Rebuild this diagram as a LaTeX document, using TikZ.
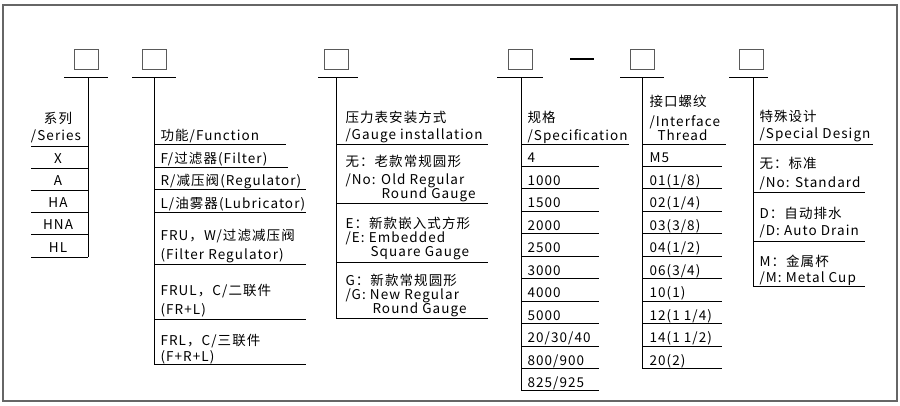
\documentclass[tikz,border=0pt]{standalone}
\usepackage{fontspec}
\setmainfont{Noto Sans CJK SC}[LetterSpace=8]
\definecolor{framegray}{HTML}{666666}
\definecolor{boxgray}{HTML}{5A5A5A}
\begin{document}
\begin{tikzpicture}[x=1pt,y=-1pt,line width=1pt,
  txt/.style={anchor=base west,inner sep=0pt,font=\fontsize{13.5}{16}\selectfont},
  ctxt/.style={txt,anchor=base},
  codebox/.style={draw=boxgray,line width=0.9pt,minimum width=24pt,minimum height=20pt,inner sep=0pt},
  rulel/.style={draw=black,line width=1pt}]
\useasboundingbox (0,0) rectangle (900,405);
\draw[framegray,line width=1.3pt] (3,5) rectangle (897,401);
% code boxes
\node[codebox] (b1) at (86.5,59) {};
\node[codebox] (b2) at (154,59) {};
\node[codebox] (b3) at (336,59) {};
\node[codebox] (b4) at (520,59) {};
\node[codebox] (b5) at (642.5,59) {};
\node[codebox] (b6) at (751,59) {};
\draw[line width=1.4pt] (570,59) -- (594,59);
% top rules
\draw[rulel] (64,77) -- (108,77);
\draw[rulel] (132,77) -- (176,77);
\draw[rulel] (318,77) -- (358,77);
\draw[rulel] (497,77) -- (543,77);
\draw[rulel] (620,77) -- (664,77);
\draw[rulel] (729,77) -- (768,77);
% column 1
\draw[rulel] (88,77) -- (88,257);
\node[ctxt] (s1) at (58,123) {系列};
\node[ctxt] (s2) at (56,140) {/Series};
\draw[rulel] (31,146) -- (88,146);
\foreach \t [count=\i] in {X,A,HA,HNA,HL}{
  \pgfmathsetmacro{\yl}{146+22.2*\i}
  \draw[rulel] (31,\yl) -- (88,\yl);
  \node[ctxt] (r1-\i) at (58,\yl-5) {\t};
}
% column 2
\draw[rulel] (154,77) -- (154,364);
\node[txt] (f0) at (160,140) {功能/Function};
\draw[rulel] (154,144) -- (286,144);
\draw[rulel] (154,167) -- (288,167);
\draw[rulel] (154,189.5) -- (306,189.5);
\draw[rulel] (154,212) -- (306,212);
\draw[rulel] (154,264) -- (306,264);
\draw[rulel] (154,319) -- (306,319);
\draw[rulel] (154,364) -- (306,364);
\node[txt] (f1) at (160,163) {F/过滤器(Filter)};
\node[txt] (f2) at (160,185.5) {R/减压阀(Regulator)};
\node[txt] (f3) at (160,208) {L/油雾器(Lubricator)};
\node[txt] (f4) at (160,240) {FRU，W/过滤减压阀};
\node[txt] (f4b) at (160,259.5) {(Filter Regulator)};
\node[txt] (f5) at (160,295) {FRUL，C/二联件};
\node[txt] (f5b) at (160,314) {(FR+L)};
\node[txt] (f6) at (160,345) {FRL，C/三联件};
\node[txt] (f6b) at (160,361.5) {(F+R+L)};
% column 3
\draw[rulel] (336,77) -- (336,318);
\node[txt] (g0) at (345,122.5) {压力表安装方式};
\node[txt] (g0b) at (345,139) {/Gauge installation};
\foreach \yl in {144,203,262,318}{\draw[rulel] (336,\yl) -- (488,\yl);}
\node[txt] (g1) at (345,166.5) {无：老款常规圆形};
\node[txt] (g1b) at (345,184) {/No: Old Regular};
\node[txt] (g1c) at (381,198) {Round Gauge};
\node[txt] (g2) at (345,228) {E：新款嵌入式方形};
\node[txt] (g2b) at (345,242) {/E: Embedded};
\node[txt] (g2c) at (370,256.5) {Square Gauge};
\node[txt] (g3) at (345,285) {G：新款常规圆形};
\node[txt] (g3b) at (345,299) {/G: New Regular};
\node[txt] (g3c) at (372,313) {Round Gauge};
% column 4
\draw[rulel] (521,77) -- (521,391);
\node[txt] (p0) at (527,122.5) {规格};
\node[txt] (p0b) at (527,140) {/Specification};
\draw[rulel] (521,144) -- (629,144);
\foreach \t [count=\i] in {4,1000,1500,2000,2500,3000,4000,5000,20/30/40,800/900,825/925}{
  \pgfmathsetmacro{\yl}{144+22.45*\i}
  \draw[rulel] (521,\yl) -- (599,\yl);
  \node[txt] (r4-\i) at (527,\yl-3.5) {\t};
}
% column 5
\draw[rulel] (642,77) -- (642,369);
\node[txt] (t0) at (649,106) {接口螺纹};
\node[txt] (t0b) at (649,126) {/Interface};
\node[txt] (t0c) at (657,140) {Thread};
\draw[rulel] (642,144) -- (726,144);
\foreach \t [count=\i] in {M5,01(1/8),02(1/4),03(3/8),04(1/2),06(3/4),10(1),12(1 1/4),14(1 1/2),20(2)}{
  \pgfmathsetmacro{\yl}{144+22.45*\i}
  \draw[rulel] (642,\yl) -- (722,\yl);
  \node[txt] (r5-\i) at (649,\yl-3.5) {\t};
}
% column 6
\draw[rulel] (753,77) -- (753,286);
\node[txt] (d0) at (759,121.5) {特殊设计};
\node[txt] (d0b) at (759,138.5) {/Special Design};
\draw[rulel] (753,144) -- (873,144);
\foreach \yl in {192,241,286}{\draw[rulel] (753,\yl) -- (865,\yl);}
\node[txt] (d1) at (759,168.5) {无：标准};
\node[txt] (d1b) at (759,187) {/No: Standard};
\node[txt] (d2) at (759,218) {D：自动排水};
\node[txt] (d2b) at (759,235) {/D: Auto Drain};
\node[txt] (d3) at (759,266.5) {M：金属杯};
\node[txt] (d3b) at (759,282) {/M: Metal Cup};
\end{tikzpicture}
\end{document}
